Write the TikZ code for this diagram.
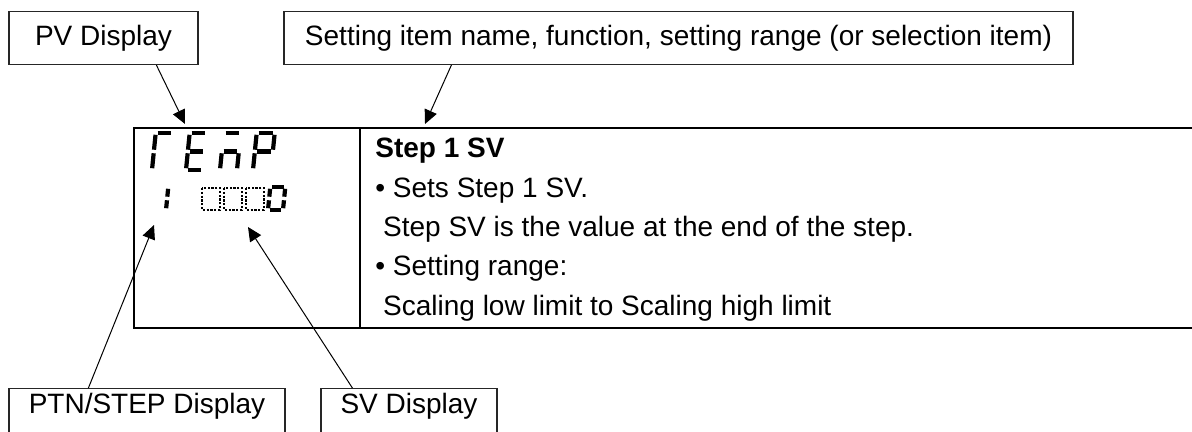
\documentclass[tikz,border=0pt]{standalone}
\usepackage{fontspec}
\setmainfont{Liberation Sans}
\usetikzlibrary{arrows.meta,calc}
\newcommand\sevdigit[5]{%
\begin{scope}[shift={(#1,#2)},x=#3pt,y=#4pt,xslant=0.1]
  \coordinate (Pa1) at (0,1);  \coordinate (Pa2) at (1,1);
  \coordinate (Pb1) at (1,1);  \coordinate (Pb2) at (1,.5);
  \coordinate (Pc1) at (1,.5); \coordinate (Pc2) at (1,0);
  \coordinate (Pd1) at (0,0);  \coordinate (Pd2) at (1,0);
  \coordinate (Pe1) at (0,.5); \coordinate (Pe2) at (0,0);
  \coordinate (Pf1) at (0,1);  \coordinate (Pf2) at (0,.5);
  \coordinate (Pg1) at (0,.5); \coordinate (Pg2) at (1,.5);
  \foreach \s in {#5}{\draw[segline] (P\s1) -- (P\s2);}
\end{scope}}
\begin{document}
\begin{tikzpicture}[x=0.5pt,y=-0.5pt,
  lbl/.style={draw=black!85, line width=0.6pt, font=\fontsize{14}{16}\selectfont,
    inner sep=0pt, text height=10pt, text depth=2.5pt},
  lowlbl/.style={lbl, anchor=north, inner ysep=0pt, text height=12.5pt, text depth=30pt},
  cell/.style={draw, line width=1.1pt, inner sep=0pt, anchor=north west},
  arr/.style={line width=0.5pt, -{Triangle[length=7pt,width=6.5pt]}},
  ln/.style={font=\fontsize{14}{16}\selectfont, anchor=base west, inner sep=0pt},
  segline/.style={line width=2.1pt, shorten <=0.9pt, shorten >=0.9pt},
  dotbox/.style={line width=1.1pt, dash pattern=on 1.1pt off 0.8pt}]
\clip (0,0) rectangle (1192,432);
% label boxes
\node[lbl, minimum width=94.5pt, minimum height=26.5pt] (pv) at (103.5,38) {PV Display};
\node[lbl, minimum width=394.5pt, minimum height=26.5pt] (set) at (678.5,38)
  {Setting item name, function, setting range (or selection item)};
\node[lowlbl, minimum width=138pt] (ptn) at (147,388) {PTN/STEP Display};
\node[lowlbl, minimum width=88pt] (sv) at (409,388) {SV Display};
% table
\node[cell, minimum width=113pt, minimum height=100pt] (disp) at (133,127) {};
\node[cell, minimum width=430pt, minimum height=100pt] (desc) at (359,127) {};
% description text
\node[ln] (l1) at (375,158) {\bfseries Step 1 SV};
\node[ln] (l2) at (375,198) {• Sets Step 1 SV.};
\node[ln] (l3) at (375,237) {\ Step SV is the value at the end of the step.};
\node[ln] (l4) at (375,276) {• Setting range:};
\node[ln] (l5) at (375,315) {\ Scaling low limit to Scaling high limit};
% seven segment display
\sevdigit{152}{170}{8.5}{18.5}{a,f,e}
\sevdigit{186}{170}{8.5}{18.5}{a,f,g,e,d}
\sevdigit{220}{170}{8.5}{18.5}{a,g,e,c}
\sevdigit{253}{170}{9}{18.5}{a,b,f,g,e}
\sevdigit{150}{210}{8}{11.5}{b,c}
\sevdigit{268}{210}{7.5}{11.5}{a,b,c,d,e,f}
\draw[dotbox] (202,188) rectangle (220,210);
\draw[dotbox] (224,188) rectangle (242,210);
\draw[dotbox] (246,188) rectangle (264,210);
% connectors
\coordinate (pvtip) at (185,124);
\coordinate (settip) at (425,124);
\coordinate (ptntip) at (154,225);
\coordinate (svtip) at (248,227);
\draw[arr] ($(pv.south west)+(148,0)$) -- (pvtip);
\draw[arr] ($(set.south west)+(168,0)$) -- (settip);
\draw[arr] ($(ptn.north west)+(80,0)$) -- (ptntip);
\draw[arr] ($(sv.north west)+(32,0)$) -- (svtip);
\end{tikzpicture}
\end{document}
